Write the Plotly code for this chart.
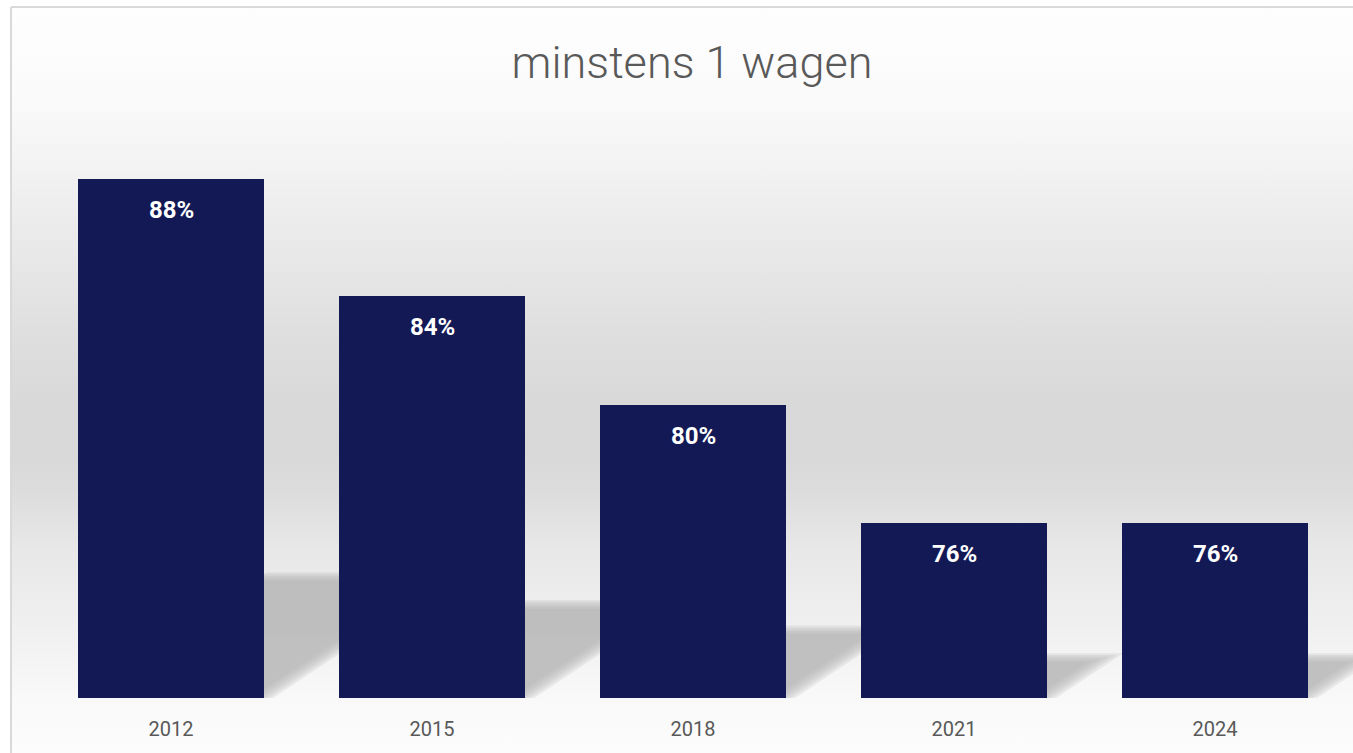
import plotly.graph_objects as go

# data: share of households with at least one car
years = [2012, 2015, 2018, 2021, 2024]
share = [88.1, 84.0, 80.2, 76.1, 76.1]
title_text = 'minstens 1 wagen'

# page geometry (px)
W, H = 1353, 753
BASE_PX = 698          # baseline of the bars
PX_PER_PCT = 28.7
PX_PER_YEAR = 87
FIRST_PX = 171         # centre of first bar
Y_MIN = 70
BAR_W = 186 / PX_PER_YEAR

x_range = [years[0] - FIRST_PX / PX_PER_YEAR, years[0] + (W - FIRST_PX) / PX_PER_YEAR]
y_range = [Y_MIN, Y_MIN + BASE_PX / PX_PER_PCT]
y_dom = [(H - BASE_PX) / H, 1]

# background gradient: (px from top, grey level)
bg_px = [0, 60, 110, 160, 220, 280, 340, 400, 450, 490, 545, 620, 700, 753]
bg_lv = [254, 252, 249, 243, 236, 229, 222, 217, 216, 220, 231, 239, 249, 252]
scale = []
for p, g in sorted(zip(bg_px, bg_lv), reverse=True):
	scale.append([(H - p) / H, 'rgb(%d,%d,%d)' % (g, g, g)])
scale[0][0] = 0
scale[-1][0] = 1

fig = go.Figure()

fig.add_trace(go.Scatter(
	x=[11, W, W, 11, 11], y=[H - 7, H - 7, 0, 0, H - 7],
	fill='toself', mode='none', hoverinfo='skip', showlegend=False,
	fillgradient=dict(type='vertical', colorscale=scale, start=0, stop=H),
	xaxis='x', yaxis='y'
))

# perspective shadows behind the bars, built from the values
# several shifted layers give a soft edge
for d in [-6, -3, 0, 3, 6, 9]:
	xs, ys = [], []
	for yr, v in zip(years, share):
		hs = 0.235 * (v - Y_MIN) * PX_PER_PCT
		xl = yr - BAR_W / 2
		xr = yr + BAR_W / 2 - d * 1.5 / PX_PER_YEAR
		top = Y_MIN + (hs - d * 0.6) / PX_PER_PCT
		run = (hs - d * 0.6) * 1.5 / PX_PER_YEAR
		xs += [xl, xr, xr + run, xl + run, xl, None]
		ys += [Y_MIN, Y_MIN, top, top, Y_MIN, None]
	fig.add_trace(go.Scatter(
		x=xs, y=ys, fill='toself', mode='none',
		fillcolor='rgba(176,176,176,0.22)', hoverinfo='skip', showlegend=False,
		xaxis='x2', yaxis='y2'
	))

fig.add_trace(go.Bar(
	x=years, y=share, width=BAR_W,
	marker=dict(color='#121955', line=dict(width=0)),
	showlegend=False, xaxis='x3', yaxis='y3'
))

for yr, v in zip(years, share):
	fig.add_annotation(
		x=yr, y=v, xref='x3', yref='y3', yanchor='middle', yshift=-31,
		text='%d%%' % round(v), showarrow=False,
		font=dict(family='Roboto', size=24, color='white', weight='bold')
	)

hidden = dict(visible=False, fixedrange=True)
fig.update_layout(
	width=W, height=H,
	margin=dict(l=0, r=0, t=0, b=0),
	paper_bgcolor='white', plot_bgcolor='rgba(0,0,0,0)',
	title=dict(
		text=title_text, x=692 / W, y=1 - 62 / H, xanchor='center', yanchor='middle',
		font=dict(family='Roboto', size=45, color='#595959', weight=300)
	),
	xaxis=dict(domain=[0, 1], range=[0, W], **hidden),
	yaxis=dict(domain=[0, 1], range=[0, H], **hidden),
	xaxis2=dict(
		domain=[0, 1], range=x_range, anchor='y2',
		tickvals=years, ticktext=[str(y) for y in years],
		tickfont=dict(family='Roboto', size=20, color='#595959'),
		showgrid=False, zeroline=False, showline=False, ticks='',
		ticklabelstandoff=17, fixedrange=True
	),
	yaxis2=dict(domain=y_dom, range=y_range, anchor='x2', visible=False, fixedrange=True),
	xaxis3=dict(overlaying='x2', range=x_range, anchor='y3', visible=False, fixedrange=True),
	yaxis3=dict(overlaying='y2', range=y_range, anchor='x3', visible=False, fixedrange=True),
	shapes=[
		dict(type='line', xref='paper', yref='paper', x0=11 / W, x1=11 / W, y0=0, y1=1 - 7 / H,
			line=dict(color='#d9d9d9', width=2)),
		dict(type='line', xref='paper', yref='paper', x0=11 / W, x1=1, y0=1 - 7 / H, y1=1 - 7 / H,
			line=dict(color='#d9d9d9', width=2)),
	],
	bargap=0,
	hovermode=False
)

# the page body has a default 8px margin; drop it so the figure fills the window
fig.write_html("out.html", config={'displayModeBar': False},
	post_script="document.body.style.margin='0';")
